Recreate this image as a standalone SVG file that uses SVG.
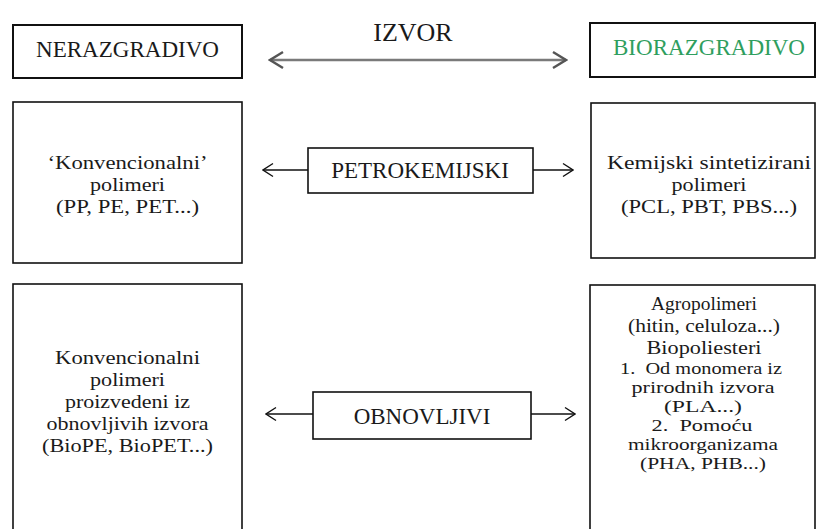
<svg xmlns="http://www.w3.org/2000/svg" width="817" height="529" viewBox="0 0 817 529">
<defs>
<style>
.box{fill:#fff;stroke:#111;stroke-width:1.6}
.t{font-family:"Liberation Serif","Times New Roman",serif;font-size:23px;fill:#1a1a1a;text-anchor:middle}
.m{font-size:19.5px}
.s{font-size:17px}
.c{stroke:#111;stroke-width:1.4;fill:none}
.cg{stroke:#7a7a7a;stroke-width:2.6;fill:none}
</style>
<marker id="ah" markerUnits="userSpaceOnUse" viewBox="0 0 12 16" refX="11" refY="8" markerWidth="12" markerHeight="16" orient="auto-start-reverse">
<path d="M1,1.5 L11,8 L1,14.5" fill="none" stroke="#111" stroke-width="1.4"/>
</marker>
<marker id="ahg" markerUnits="userSpaceOnUse" viewBox="0 0 16 20" refX="14" refY="10" markerWidth="16" markerHeight="20" orient="auto-start-reverse">
<path d="M1,2 L14,10 L1,18" fill="none" stroke="#555" stroke-width="2.4"/>
</marker>
</defs>
<rect width="817" height="529" fill="#fff"/>

<g id="connectors">
<line class="cg" x1="270" y1="60" x2="566" y2="60" marker-start="url(#ahg)" marker-end="url(#ahg)"/>
<line class="c" x1="308" y1="170" x2="263" y2="170" marker-end="url(#ah)"/>
<line class="c" x1="533" y1="170" x2="573" y2="170" marker-end="url(#ah)"/>
<line class="c" x1="313" y1="414" x2="266" y2="414" marker-end="url(#ah)"/>
<line class="c" x1="531" y1="414" x2="575" y2="414" marker-end="url(#ah)"/>
</g>

<g id="izvor">
<text class="t" x="413" y="41" style="font-size:26px">IZVOR</text>
</g>

<g id="nerazgradivo">
<rect class="box" x="13" y="25" width="229" height="53" style="stroke-width:2"/>
<text class="t" x="127.5" y="57" textLength="183" lengthAdjust="spacingAndGlyphs">NERAZGRADIVO</text>
</g>

<g id="biorazgradivo">
<rect class="box" x="590" y="23" width="225" height="54" style="stroke-width:2"/>
<text class="t" x="709" y="55" textLength="192" lengthAdjust="spacingAndGlyphs" style="fill:#2f9e5e">BIORAZGRADIVO</text>
</g>

<g id="konvencionalni">
<rect class="box" x="13" y="102" width="229" height="161"/>
<text class="t m" x="127.5" y="169" textLength="160" lengthAdjust="spacingAndGlyphs">‘Konvencionalni’</text>
<text class="t m" x="127.5" y="191" textLength="75" lengthAdjust="spacingAndGlyphs">polimeri</text>
<text class="t m" x="127.5" y="213" textLength="143" lengthAdjust="spacingAndGlyphs">(PP, PE, PET...)</text>
</g>

<g id="petrokemijski">
<rect class="box" x="308" y="148" width="225" height="45"/>
<text class="t" x="420" y="178">PETROKEMIJSKI</text>
</g>

<g id="kemijski">
<rect class="box" x="591" y="103" width="224" height="155"/>
<text class="t m" x="709" y="169" textLength="204" lengthAdjust="spacingAndGlyphs">Kemijski sintetizirani</text>
<text class="t m" x="709" y="191" textLength="75" lengthAdjust="spacingAndGlyphs">polimeri</text>
<text class="t m" x="709" y="213" textLength="176" lengthAdjust="spacingAndGlyphs">(PCL, PBT, PBS...)</text>
</g>

<g id="obnovljivi-konv">
<rect class="box" x="13" y="284" width="229" height="260"/>
<text class="t m" x="127.5" y="364" textLength="145" lengthAdjust="spacingAndGlyphs">Konvencionalni</text>
<text class="t m" x="127.5" y="386" textLength="75" lengthAdjust="spacingAndGlyphs">polimeri</text>
<text class="t m" x="127.5" y="408" textLength="125" lengthAdjust="spacingAndGlyphs">proizvedeni iz</text>
<text class="t m" x="127.5" y="430" textLength="162" lengthAdjust="spacingAndGlyphs">obnovljivih izvora</text>
<text class="t m" x="127.5" y="452" textLength="171" lengthAdjust="spacingAndGlyphs">(BioPE, BioPET...)</text>
</g>

<g id="obnovljivi">
<rect class="box" x="313" y="392" width="218" height="47"/>
<text class="t" x="422" y="424">OBNOVLJIVI</text>
</g>

<g id="bio-polimeri">
<rect class="box" x="590" y="285" width="225" height="260"/>
<text class="t m" x="704" y="310" textLength="106" lengthAdjust="spacingAndGlyphs">Agropolimeri</text>
<text class="t m" x="704" y="332" textLength="152" lengthAdjust="spacingAndGlyphs">(hitin, celuloza...)</text>
<text class="t m" x="704" y="354" textLength="115" lengthAdjust="spacingAndGlyphs">Biopoliesteri</text>
<text class="t s" x="701" y="374" textLength="162" lengthAdjust="spacingAndGlyphs" xml:space="preserve">1.  Od monomera iz</text>
<text class="t s" x="703" y="393" textLength="143" lengthAdjust="spacingAndGlyphs">prirodnih izvora</text>
<text class="t s" x="703" y="412" textLength="78" lengthAdjust="spacingAndGlyphs">(PLA...)</text>
<text class="t s" x="702" y="431" textLength="101" lengthAdjust="spacingAndGlyphs" xml:space="preserve">2.  Pomoću</text>
<text class="t s" x="703" y="450" textLength="150" lengthAdjust="spacingAndGlyphs">mikroorganizama</text>
<text class="t s" x="703" y="469" textLength="126" lengthAdjust="spacingAndGlyphs">(PHA, PHB...)</text>
</g>
</svg>
